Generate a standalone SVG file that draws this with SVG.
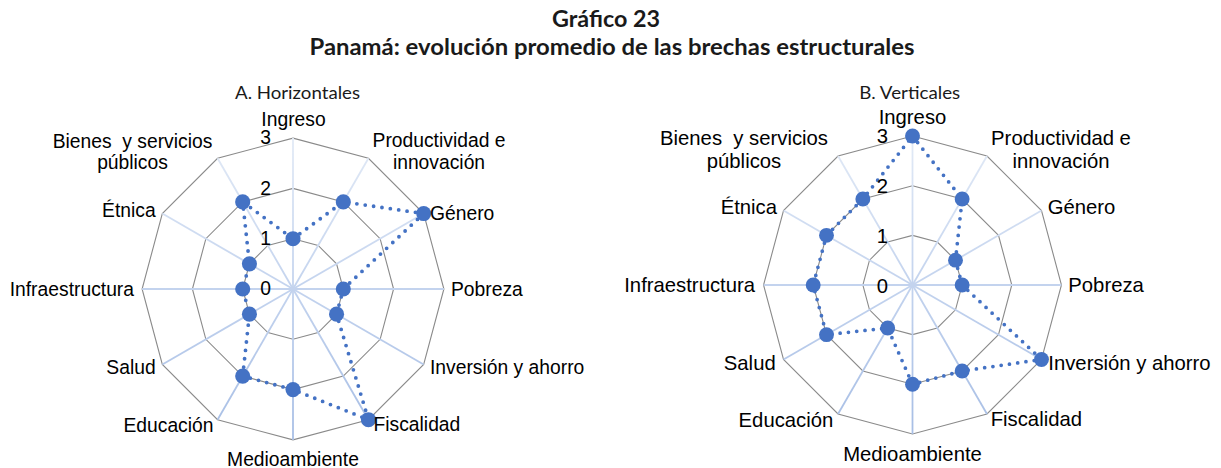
<svg xmlns="http://www.w3.org/2000/svg" width="1221" height="468" viewBox="0 0 1221 468">
<style>
.title{font-family:Lato,"Liberation Sans",sans-serif;font-weight:bold;font-size:22px;fill:#1a1a1a;text-anchor:middle}
.sub{font-family:Lato,"Liberation Sans",sans-serif;font-size:16.5px;fill:#1a1a1a;text-anchor:middle}
.lblA{font-family:"Liberation Sans",Arial,sans-serif;font-size:19.3px;fill:#000}
.lblB{font-family:"Liberation Sans",Arial,sans-serif;font-size:20.3px;fill:#000}
.mid{text-anchor:middle}
.end{text-anchor:end}
.ring{fill:none;stroke:#8a8a8a;stroke-width:1.1}
.spoke{stroke:url(#spokeGrad);stroke-width:1.8}
.series{fill:none;stroke:#4472C4;stroke-width:3.8;stroke-linecap:round;stroke-linejoin:round;stroke-dasharray:0 8.4}
.pt{fill:#4472C4}
</style>
<defs>
<linearGradient id="spokeGrad" gradientUnits="userSpaceOnUse" x1="0" y1="-150" x2="0" y2="150">
<stop offset="0" stop-color="#e2eaf6"/>
<stop offset="0.5" stop-color="#c3d3ee"/>
<stop offset="1" stop-color="#a7bee5"/>
</linearGradient>
<g id="grid">
<polygon class="ring" points="0,-50 25,-43.3 43.3,-25 50,0 43.3,25 25,43.3 0,50 -25,43.3 -43.3,25 -50,0 -43.3,-25 -25,-43.3"/>
<polygon class="ring" points="0,-100 50,-86.6 86.6,-50 100,0 86.6,50 50,86.6 0,100 -50,86.6 -86.6,50 -100,0 -86.6,-50 -50,-86.6"/>
<polygon class="ring" points="0,-150 75,-129.9 129.9,-75 150,0 129.9,75 75,129.9 0,150 -75,129.9 -129.9,75 -150,0 -129.9,-75 -75,-129.9"/>
<g class="spoke">
<line x1="0" y1="0" x2="0" y2="-150"/>
<line x1="0" y1="0" x2="75" y2="-129.9"/>
<line x1="0" y1="0" x2="129.9" y2="-75"/>
<line x1="0" y1="0" x2="150" y2="0"/>
<line x1="0" y1="0" x2="129.9" y2="75"/>
<line x1="0" y1="0" x2="75" y2="129.9"/>
<line x1="0" y1="0" x2="0" y2="150"/>
<line x1="0" y1="0" x2="-75" y2="129.9"/>
<line x1="0" y1="0" x2="-129.9" y2="75"/>
<line x1="0" y1="0" x2="-150" y2="0"/>
<line x1="0" y1="0" x2="-129.9" y2="-75"/>
<line x1="0" y1="0" x2="-75" y2="-129.9"/>
</g>
</g>
</defs>

<g id="title">
<text class="title" x="606" y="27" textLength="108" lengthAdjust="spacingAndGlyphs">Gráfico 23</text>
<text class="title" x="612" y="55" textLength="605" lengthAdjust="spacingAndGlyphs">Panamá: evolución promedio de las brechas estructurales</text>
</g>

<!-- Chart A -->
<g id="chartA">
<text class="sub" x="297.5" y="99" textLength="125" lengthAdjust="spacingAndGlyphs">A. Horizontales</text>
<g id="gridA" transform="translate(293,289) scale(1.006)">
<use href="#grid"/>
</g>
<g id="seriesA" transform="translate(293,289) scale(1.006)">
<polygon class="series" points="0,-50 50,-86.6 129.9,-75 50,0 43.3,25 75,129.9 0,100 -50,86.6 -43.3,25 -50,0 -43.3,-25 -50,-86.6"/>
<g class="pt">
<circle cx="0" cy="-50" r="7.5"/>
<circle cx="50" cy="-86.6" r="7.5"/>
<circle cx="129.9" cy="-75" r="7.5"/>
<circle cx="50" cy="0" r="7.5"/>
<circle cx="43.3" cy="25" r="7.5"/>
<circle cx="75" cy="129.9" r="7.5"/>
<circle cx="0" cy="100" r="7.5"/>
<circle cx="-50" cy="86.6" r="7.5"/>
<circle cx="-43.3" cy="25" r="7.5"/>
<circle cx="-50" cy="0" r="7.5"/>
<circle cx="-43.3" cy="-25" r="7.5"/>
<circle cx="-50" cy="-86.6" r="7.5"/>
</g>
</g>
<g id="ticksA" class="lblA end">
<text x="271" y="143.5">3</text>
<text x="271" y="195">2</text>
<text x="271" y="245">1</text>
<text x="271" y="295">0</text>
</g>
<g id="labelsA" class="lblA">
<text class="mid" x="293.5" y="126">Ingreso</text>
<text class="mid" x="439" y="146.5">Productividad e</text>
<text class="mid" x="439" y="169">innovación</text>
<text x="430" y="219.5">Género</text>
<text x="451" y="295.5">Pobreza</text>
<text x="430" y="373.5">Inversión y ahorro</text>
<text x="373.5" y="431">Fiscalidad</text>
<text class="mid" x="293" y="466">Medioambiente</text>
<text class="end" x="213.5" y="431.5">Educación</text>
<text class="end" x="155.7" y="373.5">Salud</text>
<text class="end" x="134" y="295.5">Infraestructura</text>
<text class="end" x="155.7" y="216.5">Étnica</text>
<text class="mid" x="132.5" y="147.5" xml:space="preserve">Bienes  y servicios</text>
<text class="mid" x="132.5" y="169">públicos</text>
</g>
</g>

<!-- Chart B -->
<g id="chartB">
<text class="sub" x="909.7" y="98.5" textLength="101" lengthAdjust="spacingAndGlyphs">B. Verticales</text>
<g id="gridB" transform="translate(912.5,285) scale(0.993)">
<use href="#grid"/>
</g>
<g id="seriesB" transform="translate(912.5,285) scale(0.993)">
<polygon class="series" points="0,-150 50,-86.6 43.3,-25 50,0 129.9,75 50,86.6 0,100 -25,43.3 -86.6,50 -100,0 -86.6,-50 -50,-86.6"/>
<g class="pt">
<circle cx="0" cy="-150" r="7.5"/>
<circle cx="50" cy="-86.6" r="7.5"/>
<circle cx="43.3" cy="-25" r="7.5"/>
<circle cx="50" cy="0" r="7.5"/>
<circle cx="129.9" cy="75" r="7.5"/>
<circle cx="50" cy="86.6" r="7.5"/>
<circle cx="0" cy="100" r="7.5"/>
<circle cx="-25" cy="43.3" r="7.5"/>
<circle cx="-86.6" cy="50" r="7.5"/>
<circle cx="-100" cy="0" r="7.5"/>
<circle cx="-86.6" cy="-50" r="7.5"/>
<circle cx="-50" cy="-86.6" r="7.5"/>
</g>
</g>
<g id="ticksB" class="lblB end">
<text x="888" y="143">3</text>
<text x="888" y="193">2</text>
<text x="888" y="243">1</text>
<text x="888" y="293">0</text>
</g>
<g id="labelsB" class="lblB">
<text class="mid" x="912.5" y="123.5">Ingreso</text>
<text class="mid" x="1061" y="145">Productividad e</text>
<text class="mid" x="1061" y="168">innovación</text>
<text x="1047.7" y="213.5">Género</text>
<text x="1068.3" y="291.7">Pobreza</text>
<text x="1048.3" y="369.5">Inversión y ahorro</text>
<text x="990.7" y="426">Fiscalidad</text>
<text class="mid" x="912.5" y="461">Medioambiente</text>
<text class="end" x="833.3" y="427">Educación</text>
<text class="end" x="775.7" y="369.5">Salud</text>
<text class="end" x="755" y="291.7">Infraestructura</text>
<text class="end" x="777" y="213.5">Étnica</text>
<text class="mid" x="744" y="145" xml:space="preserve">Bienes  y servicios</text>
<text class="mid" x="744" y="168">públicos</text>
</g>
</g>
</svg>
